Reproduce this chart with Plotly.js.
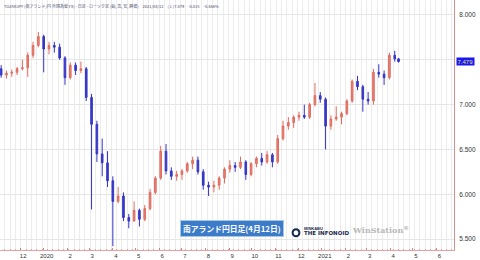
<!DOCTYPE html>
<html><head><meta charset="utf-8">
<script src="https://cdn.plot.ly/plotly-3.0.1.min.js"></script>
<style>html,body{margin:0;padding:0;background:#fff}#chart{width:480px;height:260px}</style>
</head><body><div id="chart"></div>
<script>
// Weekly candles (week mid-points), ZAR/JPY
const weeks = ["2019-11-06","2019-11-13","2019-11-20","2019-11-27","2019-12-04","2019-12-11","2019-12-18","2019-12-25",
"2020-01-01","2020-01-08","2020-01-15","2020-01-22","2020-01-29","2020-02-05","2020-02-12","2020-02-19","2020-02-26",
"2020-03-04","2020-03-11","2020-03-18","2020-03-25","2020-04-01","2020-04-08","2020-04-15","2020-04-22","2020-04-29",
"2020-05-06","2020-05-13","2020-05-20","2020-05-27","2020-06-03","2020-06-10","2020-06-17","2020-06-24",
"2020-07-01","2020-07-08","2020-07-15","2020-07-22","2020-07-29","2020-08-05","2020-08-12","2020-08-19","2020-08-26",
"2020-09-02","2020-09-09","2020-09-16","2020-09-23","2020-09-30","2020-10-07","2020-10-14","2020-10-21","2020-10-28",
"2020-11-04","2020-11-11","2020-11-18","2020-11-25","2020-12-02","2020-12-09","2020-12-16","2020-12-23","2020-12-30",
"2021-01-06","2021-01-13","2021-01-20","2021-01-27","2021-02-03","2021-02-10","2021-02-17","2021-02-24",
"2021-03-03","2021-03-10","2021-03-17","2021-03-24","2021-03-31","2021-04-07","2021-04-12"];
const open  = [7.40,7.33,7.35,7.36,7.40,7.41,7.55,7.66, 7.76,7.62,7.66,7.64,7.52,7.30,7.44,7.38,7.40,
  7.08,6.78,6.45,6.35,6.15,5.92,5.98,5.74,5.70, 5.82,5.72,5.84,6.02,6.18,6.48,6.26,6.20,
  6.22,6.26,6.34,6.38,6.25,6.10,6.08,6.10,6.18, 6.28,6.32,6.30,6.36,6.22,6.34,6.40,6.36,6.44,
  6.36,6.62,6.76,6.80,6.86,6.88,6.86,7.00,7.10, 7.06,6.76,6.84,6.86,6.90,7.04,7.26,7.20,
  7.06,7.04,7.36,7.34,7.30,7.55,7.51];
const high  = [7.44,7.38,7.39,7.42,7.50,7.58,7.70,7.81, 7.78,7.70,7.70,7.68,7.54,7.47,7.47,7.48,7.42,
  7.12,6.82,6.62,6.48,6.20,6.08,6.02,5.78,5.92, 5.84,5.88,6.06,6.20,6.54,6.56,6.30,6.26,
  6.28,6.36,6.42,6.42,6.28,6.14,6.15,6.20,6.30, 6.38,6.36,6.42,6.38,6.36,6.42,6.46,6.48,6.46,
  6.66,6.82,6.86,6.88,6.92,7.00,7.02,7.24,7.14, 7.08,6.88,6.98,6.92,7.06,7.28,7.32,7.22,
  7.14,7.40,7.45,7.38,7.58,7.60,7.52];
const low   = [7.30,7.29,7.31,7.33,7.38,7.31,7.52,7.64, 7.36,7.56,7.58,7.50,7.22,7.28,7.33,7.35,7.04,
  5.83,6.36,6.20,6.08,5.42,5.90,5.70,5.62,5.70, 5.64,5.70,5.82,6.00,6.16,6.22,6.16,6.15,
  6.16,6.24,6.28,6.22,6.05,5.98,6.02,6.05,6.12, 6.24,6.25,6.28,6.16,6.20,6.30,6.32,6.34,6.30,
  6.34,6.60,6.72,6.74,6.82,6.84,6.84,6.98,7.02, 6.50,6.72,6.82,6.78,6.88,7.02,7.16,6.92,
  7.00,7.00,7.30,7.22,7.28,7.48,7.47];
const close = [7.33,7.35,7.36,7.40,7.41,7.55,7.66,7.76, 7.62,7.66,7.64,7.52,7.30,7.44,7.38,7.40,7.08,
  6.78,6.45,6.35,6.15,5.92,5.98,5.74,5.70,5.82, 5.72,5.84,6.02,6.18,6.48,6.26,6.20,6.22,
  6.26,6.34,6.38,6.25,6.10,6.08,6.10,6.18,6.28, 6.32,6.30,6.36,6.22,6.34,6.40,6.36,6.44,6.36,
  6.62,6.76,6.80,6.86,6.88,6.86,7.00,7.10,7.06, 6.76,6.84,6.86,6.90,7.04,7.26,7.20,7.06,
  7.04,7.36,7.34,7.30,7.55,7.51,7.479];

const monthTicks = ["2019-12-01","2020-01-01","2020-02-01","2020-03-01","2020-04-01","2020-05-01","2020-06-01",
  "2020-07-01","2020-08-01","2020-09-01","2020-10-01","2020-11-01","2020-12-01","2021-01-01","2021-02-01",
  "2021-03-01","2021-04-01","2021-05-01","2021-06-01"];
const monthLabels = ["12","2020","2","3","4","5","6","7","8","9","10","11","12","2021","2","3","4","5","6"];
const priceTicks = [5.5,6.0,6.5,7.0,8.0];
const priceLabels = ["5.500","6.000","6.500","7.000","8.000"];
const lastPrice = 7.479;
const headerText = "TOZARJPY (南アランド/円 外国為替 FX) - 日足 - ローソク足 (始, 高, 安, 終値)　2021/04/12　(↓)7.479　-0.035　-0.466%";
const badgeText = "南アランド円日足(4月12日)";

const trace = {
  type: "candlestick", x: weeks, open: open, high: high, low: low, close: close,
  increasing: {line: {color: "#e06a5e", width: 1}, fillcolor: "#e8847a"},
  decreasing: {line: {color: "#3434c4", width: 1}, fillcolor: "#3d3dcc"},
  whiskerwidth: 0, hoverinfo: "skip"
};

const font = "Liberation Sans, Arial, sans-serif";
const layout = {
  width: 480, height: 260,
  margin: {l: 0, r: 26, t: 0, b: 10, pad: 0},
  paper_bgcolor: "#fff", plot_bgcolor: "#fff",
  showlegend: false, boxgap: 0.4,
  font: {family: font, size: 6, color: "#333"},
  xaxis: {
    type: "date", range: ["2019-11-04 12:00", "2021-06-24"],
    rangeslider: {visible: false},
    tickvals: monthTicks, ticktext: monthLabels,
    showgrid: false, showline: true, linecolor: "#e4a4a4", linewidth: 1,
    ticks: "inside", ticklen: 2, tickcolor: "#e08080",
    tickfont: {size: 6, color: "#333"}, ticklabelshift: 3, ticklabelstandoff: 0,
    minor: {dtick: 604800000, tick0: "2019-11-04", showgrid: true, gridcolor: "#ececec", gridwidth: 1,
            ticks: "inside", ticklen: 1, tickcolor: "#e8a0a0"},
    fixedrange: true
  },
  yaxis: {
    side: "right", range: [5.3778, 8.1667],
    tickvals: priceTicks, ticktext: priceLabels,
    showgrid: true, gridcolor: "#e6e6e6", gridwidth: 1,
    minor: {tick0: 5.5, dtick: 0.5, showgrid: true, gridcolor: "#e6e6e6", gridwidth: 1},
    showline: true, linecolor: "#d89090", linewidth: 1,
    ticks: "", tickfont: {size: 6.5, color: "#333"}, ticklabelstandoff: 3,
    zeroline: false, fixedrange: true
  },
  shapes: [
    {type: "circle", xref: "paper", yref: "paper", x0: 0.6445, x1: 0.6595, y0: 0.055, y1: 0.083,
     line: {color: "#1a2a50", width: 2}, fillcolor: "rgba(0,0,0,0)"}
  ],
  annotations: [
    {xref: "paper", yref: "paper", x: 0.004, y: 0.997, xanchor: "left", yanchor: "top",
     text: headerText, showarrow: false, font: {family: "Noto Sans CJK JP, sans-serif", size: 4, color: "#4a4a70"}},
    {xref: "paper", yref: "y", x: 1.005, y: lastPrice, xanchor: "left", yanchor: "middle",
     text: lastPrice.toFixed(3), showarrow: false, bgcolor: "#1818f0", borderpad: 0.5,
     font: {family: font, size: 6, color: "#e8e070"}},
    {xref: "paper", yref: "paper", x: 0.397, y: 0.087, xanchor: "left", yanchor: "middle",
     text: "<b>" + badgeText + "</b>", showarrow: false, bgcolor: "#3b7bc8", bordercolor: "#a8c8ea", borderwidth: 1, borderpad: 2,
     font: {family: "Noto Sans CJK JP, sans-serif", size: 7.8, color: "#fff"}},
    {xref: "paper", yref: "paper", x: 0.665, y: 0.088, xanchor: "left", yanchor: "middle",
     text: "<b>MINKABU</b>", showarrow: false, font: {family: font, size: 4, color: "#1a2a50"}},
    {xref: "paper", yref: "paper", x: 0.665, y: 0.066, xanchor: "left", yanchor: "middle",
     text: "<b>THE INFONOID</b>", showarrow: false, font: {family: "DejaVu Sans, sans-serif", size: 5.5, color: "#1a2a50"}},
    {xref: "paper", yref: "paper", x: 0.772, y: 0.08, xanchor: "left", yanchor: "middle",
     text: "<b>WinStation<sup>®</sup></b>", showarrow: false, font: {family: "DejaVu Serif, serif", size: 8, color: "#b8b8b8"}}
  ]
};

Plotly.newPlot("chart", [trace], layout, {displayModeBar: false, staticPlot: true});
</script></body></html>
